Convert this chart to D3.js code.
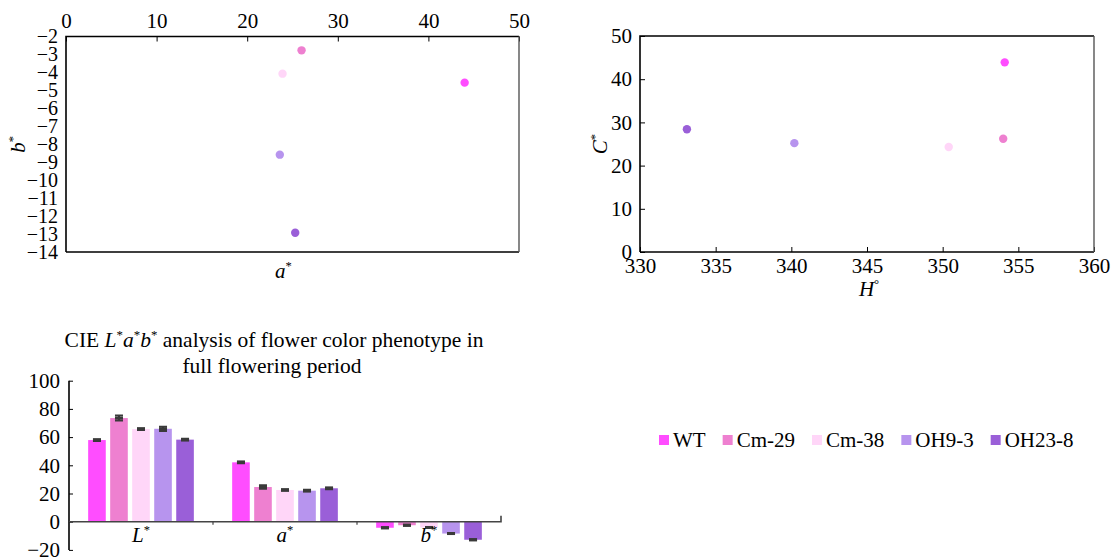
<!DOCTYPE html>
<html>
<head>
<meta charset="utf-8">
<script src="https://cdn.jsdelivr.net/npm/d3@7"></script>
<style>
  body { margin: 0; background: #fff; }
  svg, svg text { font-family: "Liberation Serif", "Times New Roman", serif; }
</style>
</head>
<body>
<div id="figure"></div>
<script>
'use strict';

const serif = '"Liberation Serif", "Times New Roman", serif';

// lines and their colours
const lines = ['WT', 'Cm-29', 'Cm-38', 'OH9-3', 'OH23-8'];
const lineColors = ['#ff4dff', '#ee80d0', '#ffd6f8', '#b794ee', '#9a5fd8'];

// a* / b* scatter
const aStar = [44.0, 26.0, 23.9, 23.6, 25.3];
const bStar = [-4.57, -2.77, -4.07, -8.58, -12.93];
const abXTicks = [0, 10, 20, 30, 40, 50];
const abYTicks = [-2, -3, -4, -5, -6, -7, -8, -9, -10, -11, -12, -13, -14];

// H / C* scatter
const hue = [354.1, 354.0, 350.4, 340.2, 333.1];
const chroma = [43.9, 26.2, 24.3, 25.2, 28.4];
const hXTicks = [330, 335, 340, 345, 350, 355, 360];
const cYTicks = [0, 10, 20, 30, 40, 50];

// bars
const barGroups = ['L', 'a', 'b'];
const barL = [57.9, 73.5, 65.7, 65.9, 58.2];
const barA = [42.1, 24.6, 22.5, 22.0, 23.7];
const barB = [-4.3, -2.5, -4.1, -8.4, -12.8];
const errL = [0.6, 1.8, 0.6, 1.5, 0.6];
const errA = [0.6, 1.2, 0.6, 0.6, 0.6];
const errB = [0.4, 0.4, 0.4, 0.4, 0.4];
const barYTicks = [-20, 0, 20, 40, 60, 80, 100];

const width = 1118;
const height = 557;
const fs = 21;
const color = d3.scaleOrdinal().domain(lines).range(lineColors);

const svg = d3.select('#figure')
  .append('svg')
  .attr('width', width)
  .attr('height', height)
  .attr('font-family', serif)
  .attr('viewBox', [0, 0, width, height]);

// text with italics / superscripts: parts = [[text, mode]], mode '' | 'i' | 's'
function rich(sel, parts) {
  let up = false;
  parts.forEach(([t, mode]) => {
    const ts = sel.append('tspan').text(t);
    if (mode === 'i') ts.attr('font-style', 'italic');
    if (mode === 's') {
      ts.attr('font-size', '0.6em').attr('dy', up ? null : '-0.6em');
      up = true;
    } else if (up) {
      ts.attr('dy', '0.36em');
      up = false;
    }
  });
  return sel;
}

function styleAxis(g, size) {
  g.attr('font-family', serif).attr('font-size', size);
  g.selectAll('.domain').remove();
  g.selectAll('line').attr('stroke', '#000');
  g.selectAll('text').attr('fill', '#000');
}

// ---------- a* b* scatter ----------
{
  const x = d3.scaleLinear().domain([0, 50]).range([66, 519]);
  const y = d3.scaleLinear().domain([-2, -14]).range([36.5, 252]);

  svg.append('g')
    .attr('transform', `translate(0, ${y(-2)})`)
    .call(d3.axisTop(x).tickValues(abXTicks).tickSizeInner(-5).tickSizeOuter(0).tickPadding(9))
    .call(g => styleAxis(g, fs));

  svg.append('g')
    .attr('transform', `translate(${x(0)}, 0)`)
    .call(d3.axisLeft(y).tickValues(abYTicks).tickSize(0).tickPadding(8))
    .call(g => styleAxis(g, 20));

  const frame = svg.append('g').attr('fill', 'none');
  frame.append('path').attr('stroke', '#000').attr('stroke-width', 1.6)
    .attr('d', `M${x(0)},${y(-14)}V${y(-2)}H${x(50)}M${x(0)},${y(-14)}H${x(50)}`);
  frame.append('path').attr('stroke', '#555').attr('stroke-width', 1.4)
    .attr('d', `M${x(50)},${y(-2)}V${y(-14)}`);

  svg.append('g')
    .selectAll('circle')
    .data(d3.zip(lines, aStar, bStar))
    .join('circle')
    .attr('cx', d => x(d[1]))
    .attr('cy', d => y(d[2]))
    .attr('r', 4.2)
    .attr('fill', d => color(d[0]));

  rich(svg.append('text')
    .attr('transform', `translate(25, ${(y(-2) + y(-14)) / 2}) rotate(-90)`)
    .attr('text-anchor', 'middle')
    .attr('font-size', fs), [['b', 'i'], ['*', 's']]);

  rich(svg.append('text')
    .attr('x', (x(0) + x(50)) / 2 - 9)
    .attr('y', 278)
    .attr('text-anchor', 'middle')
    .attr('font-size', fs), [['a', 'i'], ['*', 's']]);
}

// ---------- H C* scatter ----------
{
  const x = d3.scaleLinear().domain([330, 360]).range([640, 1094]);
  const y = d3.scaleLinear().domain([0, 50]).range([252, 36]);

  svg.append('g')
    .attr('transform', `translate(0, ${y(0)})`)
    .call(d3.axisBottom(x).tickValues(hXTicks).tickSizeInner(-5).tickSizeOuter(0).tickPadding(6))
    .call(g => styleAxis(g, fs));

  svg.append('g')
    .attr('transform', `translate(${x(330)}, 0)`)
    .call(d3.axisLeft(y).tickValues(cYTicks).tickSizeInner(-5).tickSizeOuter(0).tickPadding(8))
    .call(g => styleAxis(g, fs));

  const frame = svg.append('g').attr('fill', 'none');
  frame.append('path').attr('stroke', '#000').attr('stroke-width', 1.6)
    .attr('d', `M${x(330)},${y(0)}V${y(50)}H${x(360)}M${x(330)},${y(0)}H${x(360)}`);
  frame.append('path').attr('stroke', '#555').attr('stroke-width', 1.4)
    .attr('d', `M${x(360)},${y(50)}V${y(0)}`);

  svg.append('g')
    .selectAll('circle')
    .data(d3.zip(lines, hue, chroma))
    .join('circle')
    .attr('cx', d => x(d[1]))
    .attr('cy', d => y(d[2]))
    .attr('r', 4.2)
    .attr('fill', d => color(d[0]));

  rich(svg.append('text')
    .attr('transform', `translate(607, ${(y(0) + y(50)) / 2}) rotate(-90)`)
    .attr('text-anchor', 'middle')
    .attr('font-size', fs), [['C', 'i'], ['*', 's']]);

  rich(svg.append('text')
    .attr('x', (x(330) + x(360)) / 2 + 2)
    .attr('y', 296)
    .attr('text-anchor', 'middle')
    .attr('font-size', fs), [['H', 'i'], ['°', 's']]);
}

// ---------- bar chart ----------
{
  const x = d3.scaleBand().domain(barGroups).range([69, 501]);
  const xi = d3.scaleBand().domain(lines).range([0, x.bandwidth()])
    .paddingInner(0.2).paddingOuter(0.87);
  const y = d3.scaleLinear().domain([-20, 100]).range([549.9, 380.7]);

  const values = { L: barL, a: barA, b: barB };
  const errors = { L: errL, a: errA, b: errB };
  const bars = barGroups.flatMap(g => lines.map((l, i) => ({
    group: g, line: l, value: values[g][i], err: errors[g][i],
  })));

  svg.append('text')
    .attr('x', 274).attr('y', 347)
    .attr('text-anchor', 'middle').attr('font-size', 21.5)
    .call(t => rich(t, [['CIE '], ['L', 'i'], ['*', 's'], ['a', 'i'], ['*', 's'], ['b', 'i'], ['*', 's'],
      [' analysis of flower color phenotype in']]));
  svg.append('text')
    .attr('x', 272).attr('y', 373)
    .attr('text-anchor', 'middle').attr('font-size', 21.5)
    .text('full flowering period');

  svg.append('g')
    .selectAll('rect')
    .data(bars)
    .join('rect')
    .attr('x', d => x(d.group) + xi(d.line))
    .attr('width', xi.bandwidth())
    .attr('y', d => y(Math.max(0, d.value)))
    .attr('height', d => Math.abs(y(d.value) - y(0)))
    .attr('fill', d => color(d.line));

  const eb = svg.append('g').attr('stroke', '#3a3a3a').attr('stroke-width', 2).attr('fill', 'none');
  eb.selectAll('path')
    .data(bars)
    .join('path')
    .attr('d', d => {
      const cx = x(d.group) + xi(d.line) + xi.bandwidth() / 2;
      const y0 = y(d.value + d.err);
      const y1 = y(d.value - d.err);
      return `M${cx - 4},${y0}H${cx + 4}M${cx},${y0}V${y1}M${cx - 4},${y1}H${cx + 4}`;
    });
  eb.selectAll('rect')
    .data(bars)
    .join('rect')
    .attr('stroke', 'none')
    .attr('fill', '#3a3a3a')
    .attr('x', d => x(d.group) + xi(d.line) + xi.bandwidth() / 2 - 4)
    .attr('y', d => y(d.value) - 1.5)
    .attr('width', 8)
    .attr('height', 3);

  svg.append('g')
    .attr('transform', `translate(${x.range()[0]}, 0)`)
    .call(d3.axisLeft(y).tickValues(barYTicks).tickSizeInner(-4).tickSizeOuter(0).tickPadding(9))
    .call(g => styleAxis(g, fs));
  svg.append('path').attr('stroke', '#000').attr('stroke-width', 1.6)
    .attr('d', `M${x.range()[0]},${y(-20)}V${y(100)}`);

  svg.append('path')
    .attr('stroke', '#444').attr('stroke-width', 1.6).attr('fill', 'none')
    .attr('d', `M${x.range()[0]},${y(0)}H${x.range()[1]}V${y(0) - 6}`);
  svg.append('g')
    .selectAll('line')
    .data(barGroups.slice(1))
    .join('line')
    .attr('x1', d => x(d)).attr('x2', d => x(d))
    .attr('y1', y(0)).attr('y2', y(0) + 3)
    .attr('stroke', '#444').attr('stroke-width', 1.2);

  svg.append('g')
    .selectAll('text')
    .data(barGroups)
    .join('text')
    .attr('x', d => x(d) + x.bandwidth() / 2)
    .attr('y', y(0) + 20)
    .attr('text-anchor', 'middle')
    .attr('font-size', fs)
    .each(function (d) { rich(d3.select(this), [[d, 'i'], ['*', 's']]); });
}

// ---------- legend ----------
{
  const legend = svg.append('g').attr('font-size', fs);
  let cx = 659;
  lines.forEach(l => {
    const item = legend.append('g').attr('transform', `translate(${cx}, 0)`);
    item.append('rect').attr('x', 0).attr('y', 435).attr('width', 10).attr('height', 10)
      .attr('fill', color(l));
    const t = item.append('text').attr('x', 14).attr('y', 447).text(l);
    cx += 14 + t.node().getComputedTextLength() + 17;
  });
}
</script>
</body>
</html>
